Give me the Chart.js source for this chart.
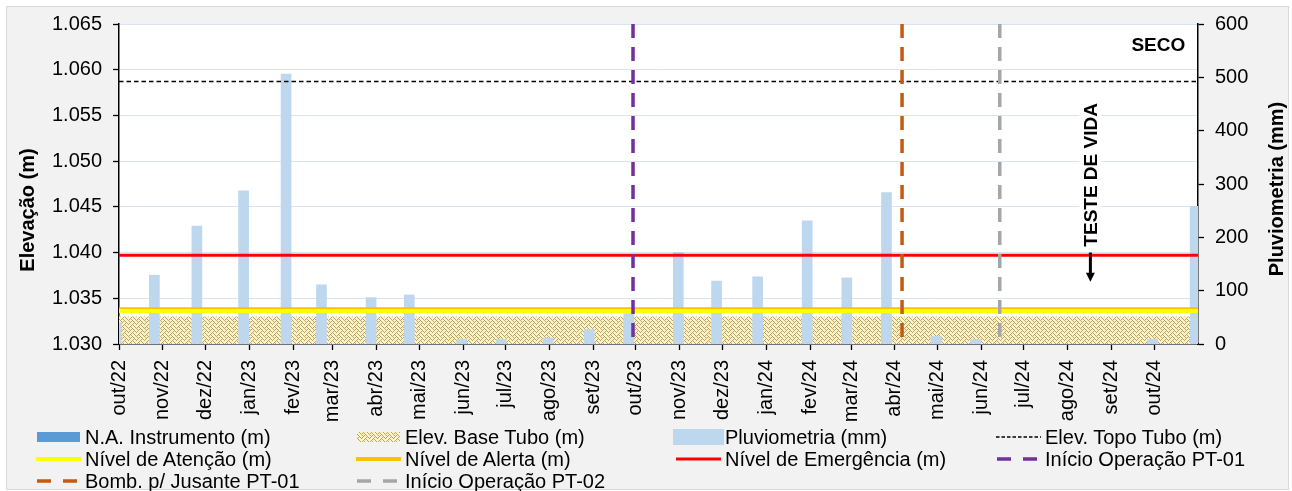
<!DOCTYPE html>
<html><head><meta charset="utf-8">
<script src="https://cdn.jsdelivr.net/npm/chart.js@4.4.1/dist/chart.umd.min.js"></script>
<style>
html,body{margin:0;padding:0;background:#fff;width:1292px;height:491px;overflow:hidden;}
#frame{position:absolute;left:6px;top:6px;width:1283px;height:484px;background:#f2f2f2;border:1px solid #d9d9d9;box-sizing:border-box;}
#wrap{position:absolute;left:0;top:0;width:1292px;height:430px;}
#legend{position:absolute;left:0;top:0;width:1292px;height:491px;font-family:"Liberation Sans",Arial,sans-serif;font-size:20px;color:#000;pointer-events:none;}
.item{position:absolute;height:22px;line-height:22px;white-space:nowrap;}
.item canvas{position:absolute;left:0;top:0;}
.item span{position:absolute;top:0;}
</style></head>
<body>
<div id="frame"></div>
<div id="wrap"><canvas id="c"></canvas></div>
<div id="legend"></div>
<script>
// ---------------- DATA ----------------
const monthLabels = ['out/22','nov/22','dez/22','jan/23','fev/23','mar/23','abr/23','mai/23','jun/23','jul/23','ago/23','set/23','out/23','nov/23','dez/23','jan/24','fev/24','mar/24','abr/24','mai/24','jun/24','jul/24','ago/24','set/24','out/24'];
const monthStarts = ['2022-10-01','2022-11-01','2022-12-01','2023-01-01','2023-02-01','2023-03-01','2023-04-01','2023-05-01','2023-06-01','2023-07-01','2023-08-01','2023-09-01','2023-10-01','2023-11-01','2023-12-01','2024-01-01','2024-02-01','2024-03-01','2024-04-01','2024-05-01','2024-06-01','2024-07-01','2024-08-01','2024-09-01','2024-10-01'];
const axisStart = '2022-10-01';
const axisEnd = '2024-11-01';

const rainDates  = ['2022-09-29','2022-10-26','2022-11-25','2022-12-28','2023-01-27','2023-02-21','2023-03-28','2023-04-24','2023-05-31','2023-06-28','2023-07-31','2023-08-29','2023-09-26','2023-10-31','2023-11-27','2023-12-26','2024-01-30','2024-02-27','2024-03-26','2024-04-30','2024-05-28','2024-09-30','2024-10-30'];
const rainValues = [40,129,221,287,506,111,87,92,9,9,11,27,57,172,118,126,231,124,284,14,8,9,258];

const naDates  = [];   // instrumento seco
const naValues = [];

const baseTubo   = 1.033;
const topoTubo   = 1.0587;
const atencao    = 1.0336;
const alerta     = 1.0338;
const emergencia = 1.0397;

const inicioPT01 = '2023-09-29';
const bombPT01   = '2024-04-06';
const inicioPT02 = '2024-06-14';

const elevTicks = [1.030,1.035,1.040,1.045,1.050,1.055,1.060,1.065];
const rainTicks = [0,100,200,300,400,500,600];

const notes = [
  {text:'SECO', date:'2024-10-04', value:1.0627, rotate:false},
  {text:'TESTE DE VIDA', date:'2024-08-17', value:1.0485, rotate:true}
];
const arrowNote = {date:'2024-08-17', from:1.0400, to:1.0368};

// ---------------- HELPERS ----------------
const t0 = Date.parse(axisStart + 'T00:00:00Z');
const day = s => (Date.parse(s + 'T00:00:00Z') - t0) / 86400000;
const hline = v => [{x:day(axisStart), y:v}, {x:day(axisEnd), y:v}];
const vline = d => [{x:day(d), y:elevTicks[elevTicks.length-1]}, {x:day(d), y:elevTicks[0]}];

const FONT = '"Liberation Sans", Arial, sans-serif';
const canvas = document.getElementById('c');
const ctx0 = canvas.getContext('2d');

function makeTile(){
  const c = document.createElement('canvas'); c.width = 8; c.height = 8;
  const g = c.getContext('2d');
  g.fillStyle = '#fff2c4'; g.fillRect(0,0,8,8);
  g.fillStyle = '#b9a565';
  const bits = [0x88,0x54,0x22,0x45,0x88,0x14,0x22,0x51];
  bits.forEach((b,r)=>{ for(let k=0;k<8;k++) if (b & (0x80>>k)) g.fillRect(k,r,1,1); });
  return c;
}
const tile = makeTile();
const hatch = ctx0.createPattern(tile, 'repeat');

// ---------------- PLUGINS ----------------
const plotBg = {
  id:'plotBg',
  beforeDraw(chart){
    const {ctx, chartArea:a} = chart;
    ctx.save(); ctx.fillStyle = '#fff'; ctx.fillRect(a.left, a.top, a.right-a.left, a.bottom-a.top); ctx.restore();
  }
};
const axisTitles = {
  id:'axisTitles',
  afterDraw(chart, args, opts){
    const ctx = chart.ctx, a = chart.chartArea;
    opts.items.forEach(it => {
      const sc = chart.scales[it.scale];
      const x = it.side === 'left' ? sc.left + it.offset : sc.right - it.offset;
      const y = (a.top + a.bottom)/2 + it.shift;
      ctx.save(); ctx.translate(x, y); ctx.rotate(-Math.PI/2);
      ctx.font = 'bold 20px ' + FONT; ctx.textAlign = 'center'; ctx.textBaseline = 'middle'; ctx.fillStyle = '#000';
      ctx.fillText(it.text, 0, 0); ctx.restore();
    });
  }
};
const notesPlugin = {
  id:'notes',
  afterDatasetsDraw(chart){
    const ctx = chart.ctx, xs = chart.scales.x, ys = chart.scales.y;
    notes.forEach(n => {
      const x = xs.getPixelForValue(day(n.date)), y = ys.getPixelForValue(n.value);
      ctx.save(); ctx.translate(x, y); if (n.rotate) ctx.rotate(-Math.PI/2);
      ctx.font = 'bold 19px ' + FONT; ctx.textAlign = 'center'; ctx.textBaseline = 'middle';
      if (n.rotate){
        const w = ctx.measureText(n.text).width;
        ctx.fillStyle = '#fff'; ctx.fillRect(-w/2-4, -11, w+8, 22);
      }
      ctx.fillStyle = '#000'; ctx.fillText(n.text, 0, 1); ctx.restore();
    });
    const ax = xs.getPixelForValue(day(arrowNote.date));
    const y1 = ys.getPixelForValue(arrowNote.from), y2 = ys.getPixelForValue(arrowNote.to);
    ctx.save(); ctx.strokeStyle = '#000'; ctx.fillStyle = '#000'; ctx.lineWidth = 3;
    ctx.beginPath(); ctx.moveTo(ax, y1); ctx.lineTo(ax, y2 - 8); ctx.stroke();
    ctx.beginPath(); ctx.moveTo(ax-4.5, y2-9); ctx.lineTo(ax+4.5, y2-9); ctx.lineTo(ax, y2); ctx.closePath(); ctx.fill();
    ctx.restore();
  }
};

// ---------------- CHART ----------------
const lineBase = {type:'line', pointRadius:0, fill:false, yAxisID:'y', tension:0};
const chart = new Chart(canvas, {
  type:'line',
  data:{ datasets:[
    {label:'N.A. Instrumento (m)', type:'bar', data:naDates.map((d,i)=>({x:day(d), y:naValues[i]})), backgroundColor:'#5B9BD5', yAxisID:'y', grouped:false, barThickness:10, order:18},
    {...lineBase, label:'Elev. Base Tubo (m)', data:hline(baseTubo), borderWidth:0, borderColor:'rgba(0,0,0,0)', fill:'start', backgroundColor:hatch, order:20},
    {label:'Pluviometria (mm)', type:'bar', data:rainDates.map((d,i)=>({x:day(d), y:rainValues[i]})), backgroundColor:'#BDD7EE', yAxisID:'y2', grouped:false, barThickness:10, order:19},
    {...lineBase, label:'Elev. Topo Tubo (m)', data:hline(topoTubo), borderColor:'#000', borderWidth:1.5, borderDash:[4.5,3], order:5},
    {...lineBase, label:'Nível de Atenção (m)', data:hline(atencao), borderColor:'#FFFF00', borderWidth:4, order:3},
    {...lineBase, label:'Nível de Alerta (m)', data:hline(alerta), borderColor:'#FFC000', borderWidth:4, order:4},
    {...lineBase, label:'Nível de Emergência (m)', data:hline(emergencia), borderColor:'#FF0000', borderWidth:3, order:2},
    {...lineBase, label:'Início Operação PT-01', data:vline(inicioPT01), borderColor:'#7030A0', borderWidth:3.5, borderDash:[14,9], order:1},
    {...lineBase, label:'Bomb. p/ Jusante PT-01', data:vline(bombPT01), borderColor:'#C55A11', borderWidth:3.5, borderDash:[14,9], order:1},
    {...lineBase, label:'Início Operação PT-02', data:vline(inicioPT02), borderColor:'#A6A6A6', borderWidth:3.5, borderDash:[14,9], order:1}
  ]},
  options:{
    responsive:true, maintainAspectRatio:false, animation:false, events:[],
    layout:{padding:{top:24, left:0, right:0, bottom:0}},
    plugins:{
      legend:{display:false}, tooltip:{enabled:false},
      axisTitles:{items:[
        {scale:'y', side:'left', offset:28, shift:26, text:'Elevação (m)'},
        {scale:'y2', side:'right', offset:15, shift:5, text:'Pluviometria (mm)'}
      ]}
    },
    scales:{
      x:{type:'linear', min:day(axisStart), max:day(axisEnd), offset:false,
        afterBuildTicks: s => { s.ticks = monthStarts.map(d => ({value:day(d)})); },
        afterFit: s => { s.height = 86; },
        ticks:{autoSkip:false, minRotation:90, maxRotation:90, padding:10, color:'#000', font:{family:FONT, size:20},
          callback:(v,i) => monthLabels[i]},
        grid:{drawOnChartArea:false, offset:false, tickLength:6, tickColor:'#000', tickWidth:1.3},
        border:{display:true, color:'#000', width:1.5}
      },
      y:{type:'linear', position:'left', min:elevTicks[0], max:elevTicks[elevTicks.length-1],
        afterBuildTicks: s => { s.ticks = elevTicks.map(v => ({value:v})); },
        afterFit: s => { s.width = 119; },
        ticks:{padding:11, color:'#000', font:{family:FONT, size:20}, callback: v => v.toFixed(3)},
        grid:{color:'#dae3f3', lineWidth:1, tickLength:6, tickColor:'#000', tickWidth:1.3},
        border:{display:true, color:'#000', width:1.5}
      },
      y2:{type:'linear', position:'right', min:rainTicks[0], max:rainTicks[rainTicks.length-1],
        afterBuildTicks: s => { s.ticks = rainTicks.map(v => ({value:v})); },
        afterFit: s => { s.width = 94; },
        ticks:{padding:11, color:'#000', font:{family:FONT, size:20}},
        grid:{drawOnChartArea:false, tickLength:6, tickColor:'#000', tickWidth:1.3},
        border:{display:true, color:'#000', width:1.5}
      }
    }
  },
  plugins:[plotBg, axisTitles, notesPlugin]
});

// ---------------- HTML LEGEND ----------------
const legendTextX = [85, 405, 725, 1045];
const legendRowY  = [437, 459, 481];
const legendEl = document.getElementById('legend');
chart.data.datasets.forEach((ds, i) => {
  const col = i % 4, row = Math.floor(i / 4);
  const item = document.createElement('div');
  item.className = 'item';
  item.style.left = (legendTextX[col] - 52) + 'px';
  item.style.top = (legendRowY[row] - 11) + 'px';
  const mc = document.createElement('canvas'); mc.width = 52; mc.height = 22;
  const g = mc.getContext('2d');
  if (ds.type === 'bar') {
    g.fillStyle = ds.backgroundColor;
    if (ds.yAxisID === 'y2') g.fillRect(0, 3, 51, 16); else g.fillRect(4, 6, 43, 10);
  } else if (ds.fill) {
    g.fillStyle = g.createPattern(tile, 'repeat'); g.fillRect(4, 6, 43, 10);
  } else {
    g.strokeStyle = ds.borderColor;
    if (ds.borderDash && ds.borderDash[0] > 8) {
      g.lineWidth = ds.borderWidth; g.lineCap = 'butt';
      g.beginPath(); g.moveTo(4, 11); g.lineTo(18, 11); g.moveTo(30, 11); g.lineTo(44, 11); g.stroke();
    } else {
      g.lineWidth = ds.borderWidth;
      if (ds.borderDash) g.setLineDash([3.5, 2]);
      g.beginPath(); g.moveTo(3, 11); g.lineTo(48, 11); g.stroke();
    }
  }
  item.appendChild(mc);
  const sp = document.createElement('span'); sp.style.left = '52px'; sp.textContent = ds.label;
  item.appendChild(sp);
  legendEl.appendChild(item);
});
</script>
</body></html>
